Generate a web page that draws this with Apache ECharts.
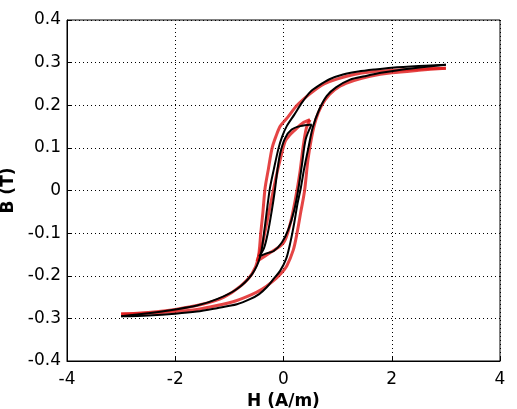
<!DOCTYPE html>
<html>
<head>
<meta charset="utf-8">
<script src="https://cdn.jsdelivr.net/npm/echarts@6/dist/echarts.min.js"></script>
<style>
  html, body { margin: 0; padding: 0; background: #fff; }
  #chart { width: 517px; height: 409px; }
</style>
</head>
<body>
<div id="chart"></div>
<script>
// axis ticks
const xTicks = [-4, -2, 0, 2, 4]
const yTicks = [-0.4, -0.3, -0.2, -0.1, 0, 0.1, 0.2, 0.3, 0.4]

// black curve (model) - major loop, rising branch
const blackUpH = [-3, -2.5, -2, -1.6, -1.23, -0.86, -0.62, -0.45, -0.31, -0.18, -0.06, 0.05, 0.13, 0.2, 0.26, 0.32, 0.38, 0.46, 0.54, 0.66, 0.8, 0.97, 1.23, 1.5, 1.8, 2.2, 2.6, 3]
const blackUpB = [-0.295, -0.293, -0.289, -0.284, -0.276, -0.267, -0.255, -0.243, -0.227, -0.207, -0.188, -0.16, -0.12, -0.075, -0.03, 0.006, 0.05, 0.1, 0.148, 0.19, 0.222, 0.242, 0.26, 0.268, 0.276, 0.284, 0.29, 0.295]
// black major loop, falling branch
const blackDownH = [3, 2.5, 2.0, 1.69, 1.38, 1.1, 0.85, 0.65, 0.5, 0.34, 0.2, 0.06, -0.02, -0.09, -0.18, -0.25, -0.3, -0.35, -0.43, -0.58, -0.86, -1.23, -1.6, -2.0, -2.5, -3]
const blackDownB = [0.295, 0.292, 0.288, 0.284, 0.279, 0.272, 0.261, 0.246, 0.232, 0.206, 0.178, 0.151, 0.128, 0.1, 0.049, 0.006, -0.04, -0.09, -0.155, -0.196, -0.231, -0.255, -0.27, -0.279, -0.288, -0.295]
// black minor loop
const blackMinorUpH = [-0.45, -0.3, -0.18, -0.03, 0.09, 0.2, 0.27, 0.34, 0.41, 0.52]
const blackMinorUpB = [-0.155, -0.147, -0.142, -0.122, -0.091, -0.045, 0, 0.06, 0.12, 0.155]
const blackMinorDownH = [0.52, 0.31, 0.15, 0.03, -0.06, -0.11, -0.16, -0.22, -0.29, -0.36, -0.45]
const blackMinorDownB = [0.155, 0.151, 0.143, 0.123, 0.088, 0.05, 0.0, -0.05, -0.1, -0.135, -0.155]

// red curve (measured) - major loop
const redUpH = [-3, -2.5, -2, -1.6, -1.23, -0.86, -0.6, -0.4, -0.2, -0.05, 0.06, 0.18, 0.25, 0.32, 0.39, 0.45, 0.52, 0.6, 0.7, 0.85, 1.05, 1.3, 1.6, 2.0, 2.5, 3]
const redUpB = [-0.29, -0.288, -0.284, -0.279, -0.27, -0.258, -0.245, -0.232, -0.213, -0.195, -0.177, -0.14, -0.1, -0.05, 0, 0.07, 0.125, 0.167, 0.198, 0.225, 0.245, 0.258, 0.268, 0.276, 0.282, 0.287]
const redDownH = [3, 2.5, 2.0, 1.6, 1.3, 1.0, 0.75, 0.5, 0.25, 0.08, -0.06, -0.14, -0.21, -0.28, -0.34, -0.38, -0.42, -0.47, -0.58, -0.8, -1.1, -1.5, -2.0, -2.5, -3]
const redDownB = [0.287, 0.285, 0.282, 0.278, 0.272, 0.262, 0.25, 0.228, 0.2, 0.172, 0.151, 0.127, 0.1, 0.05, 0.006, -0.05, -0.1, -0.16, -0.195, -0.225, -0.25, -0.267, -0.279, -0.286, -0.29]
// red minor loop
const redMinorUpH = [-0.49, -0.25, 0, 0.12, 0.22, 0.3, 0.36, 0.42, 0.49]
const redMinorUpB = [-0.166, -0.146, -0.123, -0.08, -0.02, 0.04, 0.1, 0.145, 0.166]
const redMinorDownH = [0.49, 0.35, 0.22, 0.1, 0.03, -0.06, -0.14, -0.22, -0.3, -0.38, -0.49]
const redMinorDownB = [0.166, 0.158, 0.143, 0.128, 0.115, 0.073, 0.03, -0.02, -0.07, -0.12, -0.166]

const pairs = (hs, bs) => hs.map((h, i) => [h, bs[i]])

const makeSeries = (hs, bs, color, width, opacity) => ({
    type: 'line',
    data: pairs(hs, bs),
    showSymbol: false,
    smooth: 0.3,
    silent: true,
    animation: false,
    lineStyle: { color: color, width: width, opacity: opacity }
})

const RED = 'rgb(222,22,22)'
const BLACK = '#000'

const myChart = echarts.init(document.getElementById('chart'))

const axisText = { fontFamily: 'DejaVu Sans', fontSize: 17, color: '#000' }
const gridLine = { show: true, lineStyle: { color: '#000', type: [1, 3], width: 1 } }

myChart.setOption({
    animation: false,
    grid: {
        left: 67, right: 17, top: 20, bottom: 48,
        outerBoundsMode: 'none', containLabel: false,
        show: true, borderColor: '#000', borderWidth: 1
    },
    xAxis: {
        type: 'value',
        min: xTicks[0],
        max: xTicks[xTicks.length - 1],
        interval: 2,
        name: 'H (A/m)',
        nameLocation: 'middle',
        nameGap: 28,
        nameTextStyle: Object.assign({}, axisText, { fontWeight: 'bold' }),
        axisLine: { show: true, onZero: false, lineStyle: { color: '#000' } },
        axisTick: { show: true, inside: true, length: 5, lineStyle: { color: '#000' } },
        axisLabel: Object.assign({}, axisText, { margin: 10 }),
        splitLine: gridLine
    },
    yAxis: {
        type: 'value',
        min: yTicks[0],
        max: yTicks[yTicks.length - 1],
        interval: 0.1,
        name: 'B (T)',
        nameLocation: 'middle',
        nameGap: 46,
        nameTextStyle: Object.assign({}, axisText, { fontWeight: 'bold' }),
        axisLine: { show: true, onZero: false, lineStyle: { color: '#000' } },
        axisTick: { show: true, inside: true, length: 5, lineStyle: { color: '#000' } },
        axisLabel: Object.assign({}, axisText, {
            margin: 6,
            formatter: (v) => {
                const r = Math.round(v * 10) / 10
                return r === 0 ? '0' : r.toFixed(1)
            }
        }),
        splitLine: gridLine
    },
    series: [
        makeSeries(redUpH, redUpB, RED, 3, 0.8),
        makeSeries(redDownH, redDownB, RED, 3, 0.8),
        makeSeries(redMinorUpH, redMinorUpB, RED, 3, 0.8),
        makeSeries(redMinorDownH, redMinorDownB, RED, 3, 0.8),
        makeSeries(blackUpH, blackUpB, BLACK, 2, 1),
        makeSeries(blackDownH, blackDownB, BLACK, 2, 1),
        makeSeries(blackMinorUpH, blackMinorUpB, BLACK, 2, 1),
        makeSeries(blackMinorDownH, blackMinorDownB, BLACK, 2, 1)
    ]
})
</script>
</body>
</html>
